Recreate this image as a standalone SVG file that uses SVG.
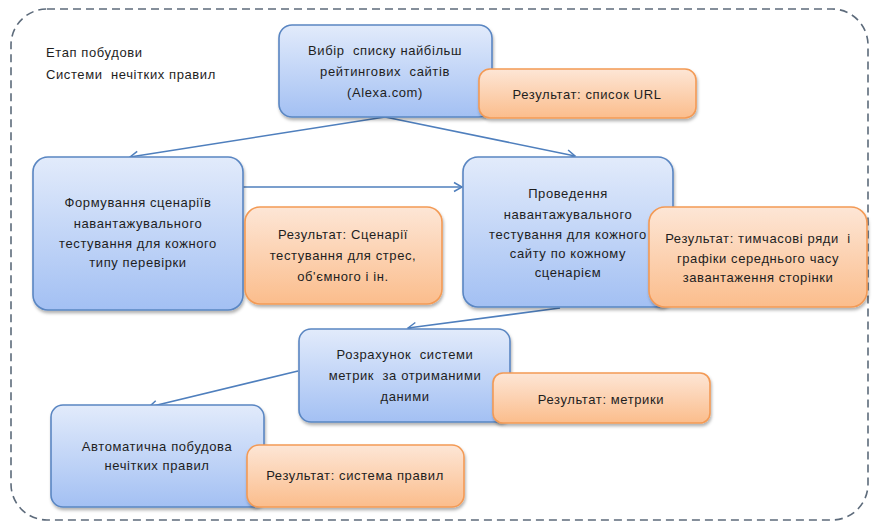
<svg xmlns="http://www.w3.org/2000/svg" width="876" height="523" viewBox="0 0 876 523">
<defs>
<linearGradient id="gb" x1="0" y1="0" x2="0" y2="1"><stop offset="0" stop-color="#e2ebfb"/><stop offset="1" stop-color="#a3c0f3"/></linearGradient>
<linearGradient id="go" x1="0" y1="0" x2="0" y2="1"><stop offset="0" stop-color="#fde6d6"/><stop offset="1" stop-color="#fbbd8c"/></linearGradient>
<filter id="sh" x="-10%" y="-10%" width="120%" height="130%"><feDropShadow dx="1" dy="2.5" stdDeviation="1.8" flood-color="#000" flood-opacity="0.3"/></filter>
<marker id="ar" markerWidth="12" markerHeight="12" refX="10" refY="6" orient="auto" markerUnits="userSpaceOnUse"><path d="M2,1.5 L10,6 L2,10.5" fill="none" stroke="#4f7fbd" stroke-width="1.5"/></marker>
<style>
.b{fill:url(#gb);stroke:#5a86c2;stroke-width:1.6;filter:url(#sh)}
.o{fill:url(#go);stroke:#f39a55;stroke-width:1.6;filter:url(#sh)}
text{font-family:"Liberation Sans",Arial,sans-serif;font-size:13px;letter-spacing:0.6px;fill:#1e1e1e;text-anchor:middle;white-space:pre}
.l{text-anchor:start}
.c{fill:none;stroke:#4f7fbd;stroke-width:1.6;marker-end:url(#ar)}
</style>
</defs>
<rect x="11" y="9" width="857" height="511" rx="36" fill="none" stroke="#5d6b7b" stroke-width="1.6" stroke-dasharray="8 5"/>
<g id="title"><text class="l" x="46" y="57">Етап побудови</text><text class="l" x="46" y="79">Системи  нечітких правил</text></g>
<g id="connectors">
<path class="c" d="M385,117 L130,157"/>
<path class="c" d="M385,117 L575,156"/>
<path class="c" d="M243,187 L462,187"/>
<path class="c" d="M560,308 L408,328"/>
<path class="c" d="M298,371 L149,407"/>
</g>
<g id="n1"><rect class="b" x="279" y="25" width="213" height="92" rx="13"/><text x="385" y="55">Вибір  списку найбільш</text><text x="385" y="76">рейтингових  сайтів</text><text x="385" y="97">(Alexa.com)</text></g>
<g id="r1"><rect class="o" x="479" y="69" width="217" height="49" rx="11"/><text x="587" y="99">Результат: список URL</text></g>
<g id="n2"><rect class="b" x="33" y="157" width="210" height="153" rx="15"/><text x="138" y="207">Формування сценаріїв</text><text x="138" y="228">навантажувального</text><text x="138" y="248">тестування для кожного</text><text x="138" y="267">типу перевірки</text></g>
<g id="r2"><rect class="o" x="245" y="207" width="197" height="97" rx="15"/><text x="343" y="239">Результат: Сценарії</text><text x="343" y="260">тестування для стрес,</text><text x="343" y="281">об'ємного і ін.</text></g>
<g id="n3"><rect class="b" x="463" y="157" width="210" height="150" rx="15"/><text x="568" y="198">Проведення</text><text x="568" y="219">навантажувального</text><text x="568" y="239">тестування для кожного</text><text x="568" y="258">сайту по кожному</text><text x="568" y="277">сценарієм</text></g>
<g id="r3"><rect class="o" x="649" y="207" width="218" height="100" rx="16"/><text x="758" y="243">Результат: тимчасові ряди  і</text><text x="758" y="263">графіки середнього часу</text><text x="758" y="282">завантаження сторінки</text></g>
<g id="n4"><rect class="b" x="299" y="329" width="211" height="93" rx="12"/><text x="405" y="359">Розрахунок  системи</text><text x="405" y="380">метрик  за отриманими</text><text x="405" y="401">даними</text></g>
<g id="r4"><rect class="o" x="493" y="373" width="217" height="50" rx="10"/><text x="601" y="404">Результат: метрики</text></g>
<g id="n5"><rect class="b" x="51" y="405" width="213" height="102" rx="12"/><text x="157" y="451">Автоматична побудова</text><text x="157" y="470">нечітких правил</text></g>
<g id="r5"><rect class="o" x="247" y="445" width="217" height="62" rx="12"/><text x="355" y="480">Результат: система правил</text></g>
</svg>
